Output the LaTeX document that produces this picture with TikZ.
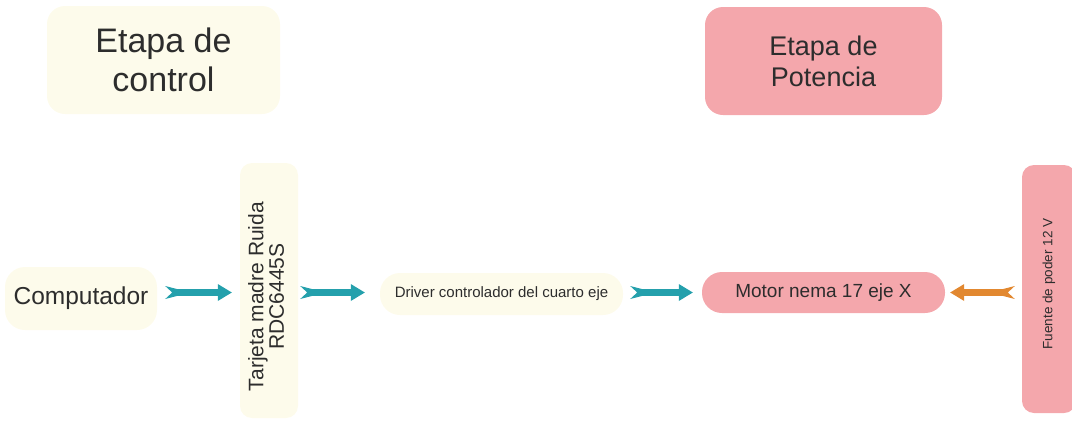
\documentclass[tikz,border=0pt]{standalone}
\usepackage{fontspec}
\setmainfont{Liberation Sans}
\usetikzlibrary{calc}

\definecolor{creamfill}{RGB}{253,251,235}
\definecolor{pinkfill}{RGB}{244,167,172}
\definecolor{tealarrow}{RGB}{36,160,172}
\definecolor{orangearrow}{RGB}{226,136,48}
\definecolor{inktext}{RGB}{45,45,45}

% Flow arrow: notched tail, straight shaft, triangular head (#1 colour, #2 start, #3 end)
\newcommand\flowarrow[3]{%
  \fill[#1] let \p1=(#2), \p2=(#3), \n1={(\x2-\x1)/abs(\x2-\x1)} in
    ({\x1},{\y1+6.5pt}) -- ({\x1+\n1*12pt},{\y1+3.4pt}) --
    ({\x2-\n1*14pt},{\y1+3.4pt}) -- ({\x2-\n1*14pt},{\y1+8.5pt}) --
    ({\x2},{\y1}) --
    ({\x2-\n1*14pt},{\y1-8.5pt}) -- ({\x2-\n1*14pt},{\y1-3.4pt}) --
    ({\x1+\n1*12pt},{\y1-3.4pt}) -- ({\x1},{\y1-6.5pt}) --
    ({\x1+\n1*7pt},{\y1}) -- cycle;}

\tikzset{
  block/.style={inner sep=0pt, align=center, text=inktext},
  cream/.style={block, fill=creamfill},
  pink/.style={block, fill=pinkfill},
}

\begin{document}
\begin{tikzpicture}[x=1pt, y=-1pt]
  \useasboundingbox (0,0) rectangle (1072,421);

  % stage titles
  \node[cream, rounded corners=18pt, minimum width=233pt, minimum height=108pt,
        font=\fontsize{34}{39}\selectfont] (ctl) at (163.5,60) {Etapa de\\control};
  \node[pink, rounded corners=18pt, minimum width=237pt, minimum height=108pt,
        font=\fontsize{27}{31}\selectfont] (pot) at (823.5,61) {Etapa de\\Potencia};

  % signal chain
  \node[cream, rounded corners=20pt, minimum width=152pt, minimum height=63pt,
        font=\fontsize{24.5}{28}\selectfont] (comp) at (81,298.5) {Computador};
  \node[cream, rounded corners=12pt, minimum width=58pt, minimum height=255pt,
        font=\fontsize{21}{20}\selectfont] (tarj) at (269,290.5)
        {\rotatebox{90}{\begin{tabular}{@{}c@{}}Tarjeta madre Ruida\\RDC6445S\end{tabular}\hspace{12pt}}};
  \node[cream, rounded corners=20pt, minimum width=243pt, minimum height=42pt,
        font=\fontsize{15}{18}\selectfont] (drv) at (501.5,294) {Driver controlador del cuarto eje};
  \node[pink, rounded corners=20pt, minimum width=243pt, minimum height=41pt,
        font=\fontsize{19}{22}\selectfont] (mot) at (823.5,292.5) {Motor nema 17 eje X};
  \node[pink, rounded corners=12pt, minimum width=54pt, minimum height=248pt,
        font=\fontsize{13.5}{16}\selectfont] (fte) at (1049,289)
        {\rotatebox{90}{\hspace{10pt}Fuente de poder 12 V}};

  % connector end points
  \coordinate (a1s) at ($(comp.east |- mot.center)+(8,0)$);
  \coordinate (a1e) at ($(tarj.west |- mot.center)+(-8,0)$);
  \coordinate (a2s) at ($(tarj.east |- mot.center)+(2,0)$);
  \coordinate (a2e) at ($(drv.west |- mot.center)+(-15,0)$);
  \coordinate (a3s) at ($(drv.east |- mot.center)+(7,0)$);
  \coordinate (a3e) at ($(mot.west)+(-9,0)$);
  \coordinate (a4s) at ($(fte.west |- mot.center)+(-7,0)$);
  \coordinate (a4e) at ($(mot.east)+(5,0)$);

  \flowarrow{tealarrow}{a1s}{a1e}
  \flowarrow{tealarrow}{a2s}{a2e}
  \flowarrow{tealarrow}{a3s}{a3e}
  \flowarrow{orangearrow}{a4s}{a4e}
\end{tikzpicture}
\end{document}
